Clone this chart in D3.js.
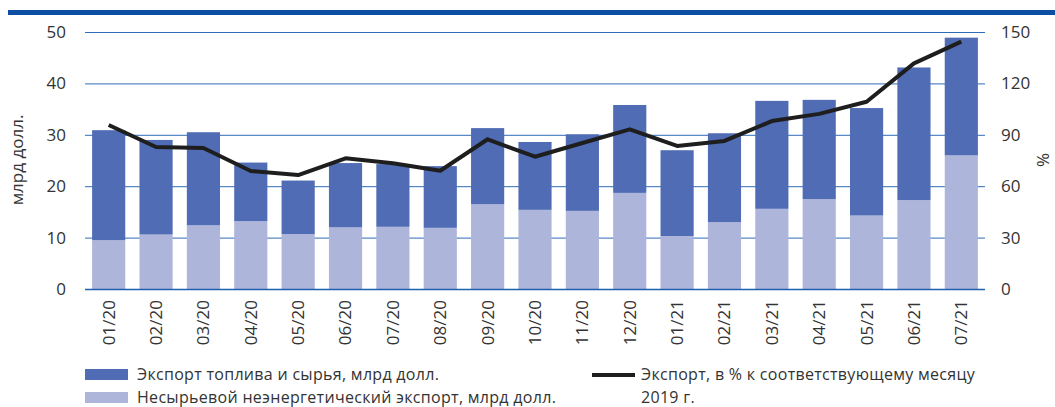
<!DOCTYPE html>
<html><head><meta charset="utf-8">
<script src="https://cdn.jsdelivr.net/npm/d3@7"></script>
<style>body{margin:0;background:#fff}svg{display:block;font-family:"Open Sans",sans-serif}</style>
</head><body><svg id="c" width="1055" height="407"></svg>
<script>
const categories=["01/20","02/20","03/20","04/20","05/20","06/20","07/20","08/20","09/20","10/20","11/20","12/20","01/21","02/21","03/21","04/21","05/21","06/21","07/21"];
const nonResource=[9.5,10.6,12.4,13.2,10.7,12.0,12.1,11.9,16.5,15.4,15.2,18.7,10.3,13.0,15.6,17.5,14.3,17.3,26.0];
const totalExport=[30.9,29.0,30.5,24.6,21.1,24.5,24.3,23.9,31.3,28.6,30.1,35.8,27.0,30.3,36.6,36.8,35.2,43.1,48.9];
const fuelRaw=totalExport.map((t,i)=>+(t-nonResource[i]).toFixed(1));
const pctOf2019=[95.7,82.9,82.3,68.9,66.5,76.3,73.4,69.0,87.4,77.2,85.2,93.2,83.5,86.4,98.0,102.2,109.3,131.7,144.4];
const leftTicks=[0,10,20,30,40,50];
const rightTicks=[0,30,60,90,120,150];

const svg=d3.select("#c");
const L=85,R=985,T=32,B=289;
const x=d3.scaleBand().domain(categories).range([L,R]).paddingInner(0.3).paddingOuter(0.15);
const y=d3.scaleLinear().domain([0,50]).range([B,T]);
const y2=d3.scaleLinear().domain([0,150]).range([B,T]);

svg.append("rect").attr("x",8).attr("y",10).attr("width",1047).attr("height",5).attr("fill","#0b4ea2");

svg.append("g").selectAll("line").data(leftTicks).join("line")
 .attr("x1",L).attr("x2",R).attr("y1",d=>y(d)+0.5).attr("y2",d=>y(d)+0.5)
 .attr("stroke","#2f6cb8").attr("stroke-width",1);

const stack=categories.map((c,i)=>({c,a:nonResource[i],b:fuelRaw[i]}));
const g=svg.append("g");
g.selectAll(".lt").data(stack).join("rect")
 .attr("x",d=>x(d.c)).attr("width",x.bandwidth())
 .attr("y",d=>y(d.a)).attr("height",d=>y(0)-y(d.a)).attr("fill","#aeb5db");
g.selectAll(".dk").data(stack).join("rect")
 .attr("x",d=>x(d.c)).attr("width",x.bandwidth())
 .attr("y",d=>y(d.a+d.b)).attr("height",d=>y(d.a)-y(d.a+d.b)).attr("fill","#4f6cb5");

svg.append("line").attr("x1",L).attr("x2",R).attr("y1",B+0.5).attr("y2",B+0.5).attr("stroke","#1f5fae").attr("stroke-width",1.5);

const line=d3.line().x((d,i)=>x(categories[i])+x.bandwidth()/2).y(d=>y2(d));
svg.append("path").datum(pctOf2019).attr("d",line).attr("fill","none").attr("stroke","#1e1e1e").attr("stroke-width",4).attr("stroke-linejoin","round");

const yl=d3.axisLeft(y).tickValues(leftTicks).tickSize(0).tickPadding(0);
const ga=svg.append("g").attr("transform",`translate(66,0)`).call(yl);
ga.select(".domain").remove();
ga.selectAll("text").attr("font-size",17).attr("fill","#333").attr("font-family","Open Sans");
const yr=d3.axisRight(y2).tickValues(rightTicks).tickSize(0).tickPadding(0);
const gb=svg.append("g").attr("transform",`translate(1001,0)`).call(yr);
gb.select(".domain").remove();
gb.selectAll("text").attr("font-size",17).attr("fill","#333").attr("font-family","Open Sans");

const xa=d3.axisBottom(x).tickSize(0).tickPadding(0);
const gx=svg.append("g").attr("transform",`translate(0,${B})`).call(xa);
gx.select(".domain").remove();
gx.selectAll("text").attr("font-size",17).attr("fill","#333").attr("font-family","Open Sans")
 .attr("text-anchor","end").attr("dy","0.35em")
 .attr("transform","translate(0,11) rotate(-90)").attr("x",0).attr("y",0);

svg.append("text").attr("transform","translate(23,160) rotate(-90)").attr("text-anchor","middle")
 .attr("font-size",17).attr("fill","#333").text("млрд долл.");
svg.append("text").attr("transform","translate(1037,160) rotate(90)").attr("text-anchor","middle")
 .attr("font-size",17).attr("fill","#333").text("%");

const lg=svg.append("g").attr("font-size",16).attr("fill","#333").attr("letter-spacing",0.3);
lg.append("rect").attr("x",85).attr("y",369).attr("width",43).attr("height",11).attr("fill","#4f6cb5");
lg.append("text").attr("x",137).attr("y",380).text("Экспорт топлива и сырья, млрд долл.");
lg.append("rect").attr("x",85).attr("y",392).attr("width",43).attr("height",11).attr("fill","#aeb5db");
lg.append("text").attr("x",137).attr("y",403).text("Несырьевой неэнергетический экспорт, млрд долл.");
lg.append("line").attr("x1",592).attr("x2",635).attr("y1",375).attr("y2",375).attr("stroke","#1e1e1e").attr("stroke-width",4);
lg.append("text").attr("x",641).attr("y",380).text("Экспорт, в % к соответствующему месяцу");
lg.append("text").attr("x",641).attr("y",403).text("2019 г.");
</script></body></html>
